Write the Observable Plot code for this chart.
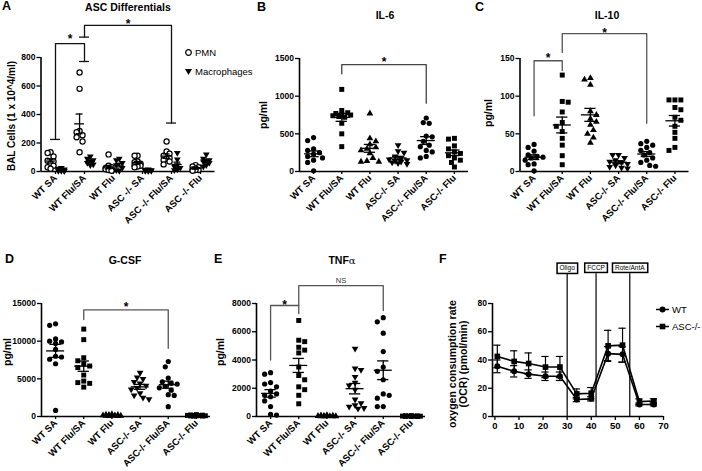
<!DOCTYPE html>
<html><head><meta charset="utf-8">
<script src="https://cdn.jsdelivr.net/npm/d3@7"></script>
<script src="https://cdn.jsdelivr.net/npm/@observablehq/plot@0.6"></script>
<style>
html,body{margin:0;padding:0;background:#fff;}
#root{position:relative;width:702px;height:471px;overflow:hidden;background:#fff;font-family:"Liberation Sans",Arial,sans-serif;color:#000;}
.panel{position:absolute;}
.panel svg{overflow:visible;display:block;max-width:none;background:transparent;}
.lbl{position:absolute;white-space:nowrap;font-weight:bold;line-height:1;}
.letter{font-size:12.5px;}
.title{font-size:10.5px;transform:translate(-50%,-50%);}
.ylab{font-size:10.5px;transform:translate(-50%,-50%) rotate(-90deg);text-align:center;}
.leg{position:absolute;font-size:9.5px;white-space:nowrap;display:flex;align-items:center;gap:2px;line-height:1;}
.leg svg{display:block;}
g[aria-label^="x-axis"] text{font-size:9.5px;}
g[aria-label^="y-axis"] text{font-size:8.5px;}
g[aria-label*="axis"] line, g[aria-label*="axis"] path{stroke-width:1.3px;}
</style></head>
<body><div id="root"></div>
<script>
// ---------- DATA ----------
const labelsA = ["WT SA", "WT Flu/SA", "WT Flu", "ASC -/- SA", "ASC -/- Flu/SA", "ASC -/- Flu"];
const labels = ["WT SA", "WT Flu/SA", "WT Flu", "ASC-/- SA", "ASC-/- Flu/SA", "ASC-/- Flu"];
const groupSymbols = ["circle", "square", "up", "down", "circle", "square"];

// A: BAL cells (1 x 10^4/ml)
const pmnA = [[135,130,105,75,70,55,40,30,20],[695,580,285,275,255,240,210,135],[120,40,30,25,20,15,15,10,5],[110,110,70,65,55,50,45,40,35,30],[210,140,125,110,95,90,80,70,50],[45,35,30,20,15,10,10,5]];
const macA = [[25,20,15,12,10,8,5,5,3],[105,90,80,70,60,50,45],[90,80,60,45,25,10,5],[15,12,10,10,8,6,5,5,4],[130,85,45,35,25,15,10],[120,90,80,75,70,60,45,35]];
const ticksA = [0,200,400,600,800];
const bracketsA = [
  {from:"WT SA", to:"WT Flu/SA", left:225, top:898, right:772, label:"*", ly:947},
  {from:"WT Flu/SA", to:"ASC -/- Flu/SA", left:943, top:1025, right:340, label:"*", ly:1055}
];
// B: IL-6 pg/ml
const il6 = [[450,410,300,280,250,230,200,180,150,120,10],[1090,810,780,770,760,750,740,730,720,640,500,330],[770,440,400,360,320,300,280,240,180,140,130,130],[350,270,250,200,180,160,150,140,130,120,110,100],[710,650,640,470,460,400,350,330,280,260,200,180],[440,430,340,300,260,240,210,180,150,120,60]];
const ticksB = [0,500,1000,1500];
const bracketsB = [{from:"WT Flu/SA", to:"ASC-/- Flu/SA", left:1297, top:1420, right:907, label:"*", ly:1487}];
// C: IL-10 pg/ml
const il10 = [[36,32,27,22,20,19,18,15,10,9,1],[128,93,92,79,65,60,53,44,35,21,9],[124,122,115,80,75,70,66,62,55,50,45,38],[22,22,18,15,13,12,10,8,6,5,4],[40,37,35,32,28,25,22,18,15,12,8,7],[95,95,95,85,82,72,68,60,52,44,32,28]];
const ticksC = [0,50,100,150];
const bracketsC = [
  {from:"WT SA", to:"WT Flu/SA", left:74, top:147, right:134, label:"*", ly:154},
  {from:"WT Flu/SA", to:"ASC-/- Flu/SA", left:158, top:183, right:64, label:"*", ly:188}
];
// D: G-CSF pg/ml
const gcsf = [[12300,12100,10300,10000,9900,9700,8900,8000,7900,7600,7000,800],[11600,10200,7800,7400,7000,6700,6500,5500,4700,4500,4400,3900],[300,250,200,200,150,150,100,100,80,50,50],[5800,5200,5000,4600,4400,4100,3800,3600,3100,2800,2500,2300],[7300,6600,5100,4600,4400,4300,4000,3800,3500,2900,2800,1300],[250,200,180,150,150,120,100,100,80,60,50]];
const ticksD = [0,5000,10000,15000];
const bracketsD = [{from:"WT Flu/SA", to:"ASC-/- Flu/SA", left:12870, top:14160, right:9060, label:"*", ly:14950}];
// E: TNFα pg/ml
const tnf = [[3100,3000,2400,2300,2100,1800,1600,1500,1400,1100,700,150,100],[6800,5400,5300,4900,4700,4500,3500,2900,2600,2100,1900,1500,900],[100,80,60,50,40,30,20,20,10,10,5],[4800,3400,3300,2800,2400,2200,1900,1200,950,800,700,600,550],[7000,6700,5900,4600,3500,3200,2600,1600,1500,1300,700,700],[60,50,40,30,30,20,20,10,10,5]];
const ticksE = [0,2000,4000,6000,8000];
const bracketsE = [
  {from:"WT SA", to:"WT Flu/SA", left:4000, top:7860, right:7280, label:"*", ly:8090},
  {from:"WT Flu/SA", to:"ASC-/- Flu/SA", left:7860, top:9270, right:7500, label:"NS", ly:9640}
];
// F: OCR (pmol/min)
const fTime = [1,8,14,21,27,34,40,47,53,60,66];
const fWT = [35.5,32,30,28.5,28.5,12,12.5,44.5,44,8.5,8.5];
const fWTsem = [4.5,4,3,3,3,1.5,1.5,5,5.5,1,1];
const fASC = [42.5,39,37.5,35,35,16,16.5,50,50.5,10.5,11];
const fASCsem = [8,7.5,7.5,7.5,7.5,3.5,4,11,12,2,1.5];
const fInjTimes = [30,42,56];
const fInjLabels = ["Oligo","FCCP","Rote/AntA"];
const fInjTop = 101, fInjLabelY = 105;
const ticksFx = [0,10,20,30,40,50,60,70];
const ticksFy = [0,20,40,60,80];

// ---------- HELPERS ----------
const triangleDown = {draw(ctx, size) {const s3 = Math.sqrt(3); const y = -Math.sqrt(size / (s3 * 3)); ctx.moveTo(0, -y * 2); ctx.lineTo(-s3 * y, y); ctx.lineTo(s3 * y, y); ctx.closePath();}};
const SYM = {circle: d3.symbolCircle, square: d3.symbolSquare, up: d3.symbolTriangle, down: triangleDown};
const RAD = {circle: 2.6, square: 2.8, up: 2.5, down: 2.5};
const FONT = '"Liberation Sans", Arial, sans-serif';
const fmt = d3.format("d");
const root = document.getElementById("root");

function swarm(vals, pxPerUnit, diam, maxOff) {
  const idx = vals.map((_, i) => i).sort((a, b) => vals[b] - vals[a]);
  const placed = [], offs = new Array(vals.length).fill(0);
  const step = diam * 0.55, cands = [0];
  for (let k = 1; k * step <= maxOff + 1e-9; k++) cands.push(k * step, -k * step);
  let flip = 1;
  for (const i of idx) {
    const py = vals[i] * pxPerUnit;
    let best = 0, bestD = -1;
    for (const c0 of cands) {
      const c = c0 * flip;
      let minD = Infinity;
      for (const p of placed) {const d = Math.hypot(c - p.x, py - p.y); if (d < minD) minD = d;}
      if (minD >= diam) {best = c; break;}
      if (minD > bestD) {bestD = minD; best = c;}
    }
    flip = -flip;
    placed.push({x: best, y: py});
    offs[i] = best;
  }
  return offs;
}

function place(svg, left, top) {
  const d = document.createElement("div");
  d.className = "panel"; d.style.left = left + "px"; d.style.top = top + "px";
  d.appendChild(svg); root.appendChild(d);
  return svg;
}
function text(cls, html, x, y, extra) {
  const d = document.createElement("div");
  d.className = "lbl " + cls; d.innerHTML = html;
  d.style.left = x + "px"; d.style.top = y + "px";
  if (extra) Object.assign(d.style, extra);
  root.appendChild(d);
}

function catPanel(cfg) {
  const {labels, series, yMax, yTicks, width, height, ml, mr, mt, mb, brackets, bColor, meanW, capW, diam, maxOff, legCaps} = cfg;
  const pxY = (height - mt - mb) / yMax, pxX = (width - ml - mr) / 6;
  const rows = [], stats = [];
  series.forEach((s, si) => {
    s.values.forEach((vals, g) => {
      const offs = swarm(vals, pxY, diam, maxOff);
      vals.forEach((v, k) => rows.push({si, g, v, x: g + s.shift + offs[k] / pxX}));
      const m = d3.mean(vals), se = d3.deviation(vals) / Math.sqrt(vals.length);
      stats.push({x: g + s.shift, mean: m, lo: m - se, hi: m + se});
    });
  });
  const marks = [
    Plot.ruleY([0], {x1: -0.5, x2: 5.5, stroke: "black", strokeWidth: 1.6}),
    Plot.ruleX([-0.5], {y1: 0, y2: yMax, stroke: "black", strokeWidth: 1.6})
  ];
  series.forEach((s, si) => {
    for (let g = 0; g < 6; g++) {
      const type = Array.isArray(s.symbols) ? s.symbols[g] : s.symbols;
      marks.push(Plot.dot(rows.filter(d => d.si === si && d.g === g), {
        x: "x", y: "v", symbol: SYM[type], r: RAD[type],
        fill: s.open ? "white" : "black", stroke: s.open ? "black" : "none", strokeWidth: s.open ? 1.2 : 0
      }));
    }
  });
  marks.push(
    Plot.ruleY(stats, {y: "mean", x1: d => d.x - meanW, x2: d => d.x + meanW, stroke: "black", strokeWidth: 1.3}),
    Plot.ruleX(stats, {x: "x", y1: "lo", y2: "hi", stroke: "black", strokeWidth: 1.3}),
    Plot.ruleY(stats, {y: "lo", x1: d => d.x - capW, x2: d => d.x + capW, stroke: "black", strokeWidth: 1.3}),
    Plot.ruleY(stats, {y: "hi", x1: d => d.x - capW, x2: d => d.x + capW, stroke: "black", strokeWidth: 1.3})
  );
  const idx = l => labels.indexOf(l);
  const bpts = [], caps = [];
  brackets.forEach((b, i) => {
    const a = idx(b.from), c = idx(b.to);
    bpts.push({id: i, x: a, y: b.left}, {id: i, x: a, y: b.top}, {id: i, x: c, y: b.top}, {id: i, x: c, y: b.right});
    caps.push({x: a, y: b.left}, {x: c, y: b.right});
  });
  marks.push(Plot.line(bpts, {x: "x", y: "y", z: "id", stroke: bColor, strokeWidth: 1.3}));
  if (legCaps) marks.push(Plot.ruleY(caps, {y: "y", x1: d => d.x - legCaps, x2: d => d.x + legCaps, stroke: bColor, strokeWidth: 1.3}));
  marks.push(
    Plot.text(brackets.filter(b => b.label === "*"), {x: b => (idx(b.from) + idx(b.to)) / 2, y: "ly", text: "label", fontSize: 12, fontWeight: "bold", fill: "black", dy: 3}),
    Plot.text(brackets.filter(b => b.label !== "*"), {x: b => (idx(b.from) + idx(b.to)) / 2, y: "ly", text: "label", fontSize: 7.5, fontWeight: "normal", fill: "#333"})
  );
  return Plot.plot({
    width, height, marginLeft: ml, marginRight: mr, marginTop: mt, marginBottom: mb,
    x: {domain: [-0.5, 5.5], ticks: [0, 1, 2, 3, 4, 5], tickFormat: i => labels[i], tickRotate: -45, tickSize: 3, tickPadding: 2, label: null},
    y: {domain: [0, yMax], ticks: yTicks, tickFormat: fmt, tickSize: 4, tickPadding: 1.5, label: null},
    style: {fontFamily: FONT, fontWeight: "bold", fontSize: "9px", color: "black", background: "transparent", overflow: "visible"},
    marks
  });
}

// ---------- PANELS ----------
place(catPanel({labels: labelsA, yMax: 800, yTicks: ticksA, width: 230, height: 235, ml: 40.5, mr: 15.5, mt: 57, mb: 64,
  series: [{values: pmnA, symbols: "circle", open: true, shift: -0.17}, {values: macA, symbols: "down", open: false, shift: 0.2}],
  brackets: bracketsA, bColor: "#111", meanW: 0.17, capW: 0.12, diam: 5.4, maxOff: 5, legCaps: 0.17}), 0, 0);

place(catPanel({labels, yMax: 1500, yTicks: ticksB, width: 240, height: 235, ml: 64, mr: 7, mt: 58, mb: 64,
  series: [{values: il6, symbols: groupSymbols, shift: 0}], brackets: bracketsB, bColor: "#444",
  meanW: 0.32, capW: 0.2, diam: 5.4, maxOff: 10}), 235, 0);

place(catPanel({labels, yMax: 150, yTicks: ticksC, width: 242, height: 235, ml: 59.5, mr: 13.5, mt: 58, mb: 64,
  series: [{values: il10, symbols: groupSymbols, shift: 0}], brackets: bracketsC, bColor: "#555",
  meanW: 0.32, capW: 0.2, diam: 5.4, maxOff: 10}), 460, 0);

place(catPanel({labels, yMax: 15000, yTicks: ticksD, width: 230, height: 236, ml: 41, mr: 20, mt: 68, mb: 55,
  series: [{values: gcsf, symbols: groupSymbols, shift: 0}], brackets: bracketsD, bColor: "#555",
  meanW: 0.32, capW: 0.2, diam: 5.4, maxOff: 9}), 0, 235);

place(catPanel({labels, yMax: 8000, yTicks: ticksE, width: 230, height: 236, ml: 26, mr: 35, mt: 68, mb: 55,
  series: [{values: tnf, symbols: groupSymbols, shift: 0}], brackets: bracketsE, bColor: "#555",
  meanW: 0.32, capW: 0.2, diam: 5.4, maxOff: 9}), 230, 235);

// F
const rowsF = [];
fTime.forEach((t, i) => {
  rowsF.push({s: "WT", t, v: fWT[i], e: fWTsem[i]});
  rowsF.push({s: "ASC-/-", t, v: fASC[i], e: fASCsem[i]});
});
const inj = fInjTimes.map((t, i) => ({t, label: fInjLabels[i]}));
const svgF = place(Plot.plot({
  width: 242, height: 236, marginLeft: 32, marginRight: 39, marginTop: 68, marginBottom: 55,
  x: {domain: [-1, 70], ticks: ticksFx, tickFormat: fmt, tickSize: 4, tickPadding: 2, label: null},
  y: {domain: [0, 80], ticks: ticksFy, tickFormat: fmt, tickSize: 4, tickPadding: 1.5, label: null},
  style: {fontFamily: FONT, fontWeight: "bold", fontSize: "9px", color: "black", background: "transparent", overflow: "visible"},
  marks: [
    Plot.ruleY([0], {x1: -1, x2: 70, stroke: "black", strokeWidth: 1.6}),
    Plot.ruleX([-1], {y1: 0, y2: 80, stroke: "black", strokeWidth: 1.6}),
    Plot.ruleX(inj, {x: "t", y1: 0, y2: fInjTop, stroke: "black", strokeWidth: 1.2}),
    Plot.text(inj, {x: "t", y: fInjLabelY, text: "label", fontSize: 6.5, fontWeight: "normal", fill: "black"}),
    Plot.ruleX(rowsF, {x: "t", y1: d => d.v - d.e, y2: d => d.v + d.e, stroke: "black", strokeWidth: 1.2}),
    Plot.ruleY(rowsF, {y: d => d.v + d.e, x1: d => d.t - 1.5, x2: d => d.t + 1.5, stroke: "black", strokeWidth: 1.2}),
    Plot.ruleY(rowsF, {y: d => d.v - d.e, x1: d => d.t - 1.5, x2: d => d.t + 1.5, stroke: "black", strokeWidth: 1.2}),
    Plot.line(rowsF, {x: "t", y: "v", z: "s", stroke: "black", strokeWidth: 1.6}),
    Plot.dot(rowsF.filter(d => d.s === "WT"), {x: "t", y: "v", symbol: "circle", r: 3, fill: "black"}),
    Plot.dot(rowsF.filter(d => d.s !== "WT"), {x: "t", y: "v", symbol: "square", r: 3.2, fill: "black"})
  ]
}), 460, 235);
// boxes around injection labels
svgF.querySelectorAll("text").forEach(t => {
  if (!fInjLabels.includes(t.textContent)) return;
  const bb = t.getBBox();
  const r = document.createElementNS("http://www.w3.org/2000/svg", "rect");
  r.setAttribute("x", bb.x - 2.5); r.setAttribute("y", bb.y - 1.2);
  r.setAttribute("width", bb.width + 5); r.setAttribute("height", bb.height + 2.4);
  r.setAttribute("fill", "white"); r.setAttribute("stroke", "black"); r.setAttribute("stroke-width", 1.5);
  if (t.getAttribute("transform")) r.setAttribute("transform", t.getAttribute("transform"));
  t.parentNode.insertBefore(r, t);
});

// ---------- TEXT: letters, titles, axis labels, legends ----------
text("letter", "A", 2, 0); text("letter", "B", 257, 1); text("letter", "C", 475, 1);
text("letter", "D", 5, 253); text("letter", "E", 214, 253); text("letter", "F", 439, 253);
text("title", "ASC Differentials", 128, 7); text("title", "IL-6", 385, 15); text("title", "IL-10", 607, 15);
text("title", "G-CSF", 125, 260); text("title", 'TNF<span style="font-weight:normal;font-family:\'DejaVu Serif\',serif;font-size:10px">α</span>', 342, 260);
text("ylab", "BAL Cells (1 x 10^4/ml)", 12, 116, {fontSize: "10px"});
text("ylab", "pg/ml", 263, 115); text("ylab", "pg/ml", 488, 113);
text("ylab", "pg/ml", 7, 352); text("ylab", "pg/ml", 220, 352);
text("ylab", "oxygen consumption rate<br>(OCR) (pmol/min)", 457, 364, {fontSize: "10.5px"});

function legend(x, y, sym, label) {
  const d = document.createElement("div");
  d.className = "leg"; d.style.left = x + "px"; d.style.top = y + "px";
  d.innerHTML = sym + "<span>" + label + "</span>";
  root.appendChild(d);
}
legend(184, 48, '<svg width="9" height="9"><circle cx="4.5" cy="4.5" r="2.8" fill="white" stroke="black" stroke-width="1.2"/></svg>', "PMN");
legend(184, 67, '<svg width="9" height="9"><path d="M1,2 L8,2 L4.5,8 Z" fill="black"/></svg>', "Macrophages");
legend(655, 305, '<svg width="15" height="9"><line x1="1" y1="4.5" x2="14" y2="4.5" stroke="black" stroke-width="1.5"/><circle cx="7.5" cy="4.5" r="3" fill="black"/></svg>', "WT");
legend(655, 322, '<svg width="15" height="9"><line x1="1" y1="4.5" x2="14" y2="4.5" stroke="black" stroke-width="1.5"/><rect x="4.7" y="1.7" width="5.6" height="5.6" fill="black"/></svg>', "ASC-/-");
</script>
</body></html>
